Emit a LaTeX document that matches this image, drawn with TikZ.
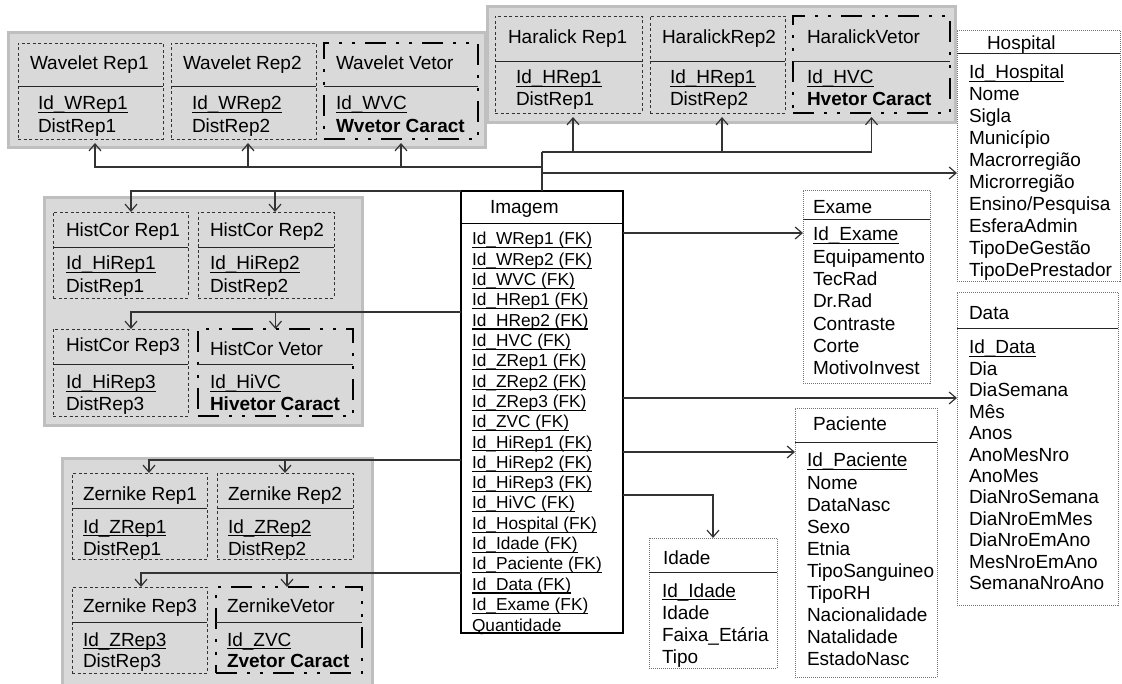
\documentclass[tikz,border=0pt]{standalone}
\usepackage{fontspec}
\setmainfont{Liberation Sans}
\usetikzlibrary{arrows.meta}
\definecolor{cinza}{HTML}{D9D9D9}
\definecolor{cinzaborda}{HTML}{BFBFBF}
\newcommand{\sublinha}[1]{\setbox0=\hbox{#1}\rlap{\rule[-3.4pt]{\wd0}{1.1pt}}\box0}

\begin{document}
\begin{tikzpicture}[x=1pt, y=-1pt,
	every node/.style={font=\fontsize{19}{22}\selectfont, inner sep=0pt, outer sep=0pt},
	>={Straight Barb[length=7pt, width=12pt]},
	caixa/.style={anchor=north west},
	tam/.style 2 args={minimum width=#1, minimum height=#2},
	grupo/.style={caixa, fill=cinza, draw=cinzaborda, line width=3pt},
	rep/.style={caixa, draw=black!80, line width=0.9pt, dash pattern=on 3pt off 2.5pt},
	vetor/.style={caixa, draw=black, line width=2.8pt, dash pattern=on 21pt off 10pt on 3pt off 10pt on 3pt off 10pt},
	tabela/.style={caixa, draw=black!55, line width=0.9pt, dash pattern=on 1pt off 1pt},
	div/.style={draw=black!85, line width=0.9pt},
	txt/.style={anchor=base west},
	pequena/.style={font=\fontsize{17.3}{20}\selectfont},
	lig/.style={draw=black!80, line width=1.2pt}]
	\useasboundingbox (0,0) rectangle (1122,684);

	% grupos de caracteristicas
	\node[grupo, tam={477pt}{115pt}] (gW) at (8,33) {};
	\node[grupo, tam={468pt}{116pt}] (gH) at (487,7) {};
	\node[grupo, tam={318pt}{228pt}] (gHi) at (44,198) {};
	\node[grupo, tam={310pt}{240pt}] (gZ) at (62,458) {};

	% Wavelet
	\node[rep, tam={145pt}{96pt}] (wr1) at (18,43) {};
	\node[rep, tam={145pt}{96pt}] (wr2) at (171,43) {};
	\node[vetor, tam={154pt}{96pt}] (wvc) at (324,43) {};
	\draw[div] (wr1.west |- 0,86) -- (wr1.east |- 0,86);
	\draw[div] (wr2.west |- 0,86) -- (wr2.east |- 0,86);
	\draw[div] (wvc.west |- 0,86) -- (wvc.east |- 0,86);
	\node[txt] at (30,70) {Wavelet Rep1};
	\node[txt] at (38,110) {\sublinha{Id\_WRep1}};
	\node[txt] at (38,133) {DistRep1};
	\node[txt] at (183,70) {Wavelet Rep2};
	\node[txt] at (192,110) {\sublinha{Id\_WRep2}};
	\node[txt] at (192,133) {DistRep2};
	\node[txt] at (336,70) {Wavelet Vetor};
	\node[txt] at (336,110) {\sublinha{Id\_WVC}};
	\node[txt] at (336,133) {\textbf{Wvetor Caract}};

	% Haralick
	\node[rep, tam={147pt}{97pt}] (hr1) at (495,16) {};
	\node[rep, tam={135pt}{97pt}] (hr2) at (650,16) {};
	\node[vetor, tam={157pt}{97pt}] (hvc) at (793,16) {};
	\draw[div] (hr1.west |- 0,61) -- (hr1.east |- 0,61);
	\draw[div] (hr2.west |- 0,61) -- (hr2.east |- 0,61);
	\draw[div] (hvc.west |- 0,61) -- (hvc.east |- 0,61);
	\node[txt] at (508,44) {Haralick Rep1};
	\node[txt] at (516,84) {\sublinha{Id\_HRep1}};
	\node[txt] at (516,106) {DistRep1};
	\node[txt] at (662,44) {HaralickRep2};
	\node[txt] at (670,84) {\sublinha{Id\_HRep1}};
	\node[txt] at (670,106) {DistRep2};
	\node[txt] at (807,44) {HaralickVetor};
	\node[txt] at (807,84) {\sublinha{Id\_HVC}};
	\node[txt] at (807,106) {\textbf{Hvetor Caract}};

	% HistCor
	\node[rep, tam={135pt}{86pt}] (hi1) at (53,212) {};
	\node[rep, tam={136pt}{86pt}] (hi2) at (198,212) {};
	\node[rep, tam={135pt}{87pt}] (hi3) at (53,329) {};
	\node[vetor, tam={155pt}{87pt}] (hivc) at (198,329) {};
	\draw[div] (hi1.west |- 0,247) -- (hi1.east |- 0,247);
	\draw[div] (hi2.west |- 0,247) -- (hi2.east |- 0,247);
	\draw[div] (hi3.west |- 0,364) -- (hi3.east |- 0,364);
	\draw[div] (hivc.west |- 0,364) -- (hivc.east |- 0,364);
	\node[txt] at (66,237) {HistCor Rep1};
	\node[txt] at (66,270) {\sublinha{Id\_HiRep1}};
	\node[txt] at (66,293) {DistRep1};
	\node[txt] at (210,237) {HistCor Rep2};
	\node[txt] at (210,270) {\sublinha{Id\_HiRep2}};
	\node[txt] at (210,293) {DistRep2};
	\node[txt] at (66,352) {HistCor Rep3};
	\node[txt] at (66,389) {\sublinha{Id\_HiRep3}};
	\node[txt] at (66,410) {DistRep3};
	\node[txt] at (210,356) {HistCor Vetor};
	\node[txt] at (210,389) {\sublinha{Id\_HiVC}};
	\node[txt] at (210,410) {\textbf{Hivetor Caract}};

	% Zernike
	\node[rep, tam={135pt}{86pt}] (zr1) at (72,473) {};
	\node[rep, tam={136pt}{86pt}] (zr2) at (217,473) {};
	\node[rep, tam={135pt}{86pt}] (zr3) at (72,587) {};
	\node[vetor, tam={146pt}{86pt}] (zvc) at (216,587) {};
	\draw[div] (zr1.west |- 0,508) -- (zr1.east |- 0,508);
	\draw[div] (zr2.west |- 0,508) -- (zr2.east |- 0,508);
	\draw[div] (zr3.west |- 0,622) -- (zr3.east |- 0,622);
	\draw[div] (zvc.west |- 0,622) -- (zvc.east |- 0,622);
	\node[txt] at (83,500) {Zernike Rep1};
	\node[txt] at (83,533) {\sublinha{Id\_ZRep1}};
	\node[txt] at (83,555) {DistRep1};
	\node[txt] at (228,500) {Zernike Rep2};
	\node[txt] at (228,533) {\sublinha{Id\_ZRep2}};
	\node[txt] at (228,555) {DistRep2};
	\node[txt] at (83,612) {Zernike Rep3};
	\node[txt] at (83,646) {\sublinha{Id\_ZRep3}};
	\node[txt] at (83,667) {DistRep3};
	\node[txt] at (227,612) {ZernikeVetor};
	\node[txt] at (227,646) {\sublinha{Id\_ZVC}};
	\node[txt] at (227,667) {\textbf{Zvetor Caract}};

	% tabela fato
	\node[caixa, draw=black, line width=1.2pt, tam={162pt}{442pt}] (img) at (461,191) {};
	\draw[div, draw=black] (img.west |- 0,223) -- (img.east |- 0,223);
	\node[txt] at (490,214) {Imagem};
	\foreach \campo [count=\i from 0] in {WRep1,WRep2,WVC,HRep1,HRep2,HVC,ZRep1,ZRep2,ZRep3,ZVC,HiRep1,HiRep2,HiRep3,HiVC,Hospital,Idade,Paciente,Data,Exame}
		\node[txt, pequena] at (472,{245+20.3*\i}) {\sublinha{Id\_\campo\ (FK)}};
	\node[txt, pequena] at (472,631) {Quantidade};

	% dimensoes
	\node[tabela, tam={163pt}{251pt}] (hosp) at (957,30) {};
	\draw[div] (hosp.west |- 0,53) -- (hosp.east |- 0,53);
	\node[txt] at (987,50) {Hospital};
	\node[txt] at (969,79) {\sublinha{Id\_Hospital}};
	\foreach \campo [count=\i] in {Nome,Sigla,Município,Macrorregião,Microrregião,Ensino/Pesquisa,EsferaAdmin,TipoDeGestão,TipoDePrestador}
		\node[txt] at (969,{79+22*\i}) {\campo};

	\node[tabela, tam={127pt}{193pt}] (exame) at (803,190) {};
	\draw[div] (exame.west |- 0,219) -- (exame.east |- 0,219);
	\node[txt] at (813,214) {Exame};
	\node[txt] at (813,241) {\sublinha{Id\_Exame}};
	\foreach \campo [count=\i] in {Equipamento,TecRad,Dr.Rad,Contraste,Corte,MotivoInvest}
		\node[txt] at (813,{241+22.3*\i}) {\campo};

	\node[tabela, tam={161pt}{313pt}] (dados) at (957,292) {};
	\draw[div] (dados.west |- 0,328) -- (dados.east |- 0,328);
	\node[txt] at (969,320) {Data};
	\node[txt] at (969,354) {\sublinha{Id\_Data}};
	\foreach \campo [count=\i] in {Dia,DiaSemana,Mês,Anos,AnoMesNro,AnoMes,DiaNroSemana,DiaNroEmMes,DiaNroEmAno,MesNroEmAno,SemanaNroAno}
		\node[txt] at (969,{354+21.4*\i}) {\campo};

	\node[tabela, tam={142pt}{269pt}] (pac) at (795,408) {};
	\draw[div] (pac.west |- 0,442) -- (pac.east |- 0,442);
	\node[txt] at (813,431) {Paciente};
	\node[txt] at (807,467) {\sublinha{Id\_Paciente}};
	\foreach \campo [count=\i] in {Nome,DataNasc,Sexo,Etnia,TipoSanguineo,TipoRH,Nacionalidade,Natalidade,EstadoNasc}
		\node[txt] at (807,{467+22*\i}) {\campo};

	\node[tabela, tam={128pt}{130pt}] (idade) at (649,538) {};
	\draw[div] (idade.west |- 0,572) -- (idade.east |- 0,572);
	\node[txt] at (663,564) {Idade};
	\node[txt] at (662,597) {\sublinha{Id\_Idade}};
	\foreach \campo [count=\i] in {Idade,Faixa\_Etária,Tipo}
		\node[txt] at (662,{597+22.3*\i}) {\campo};

	% ligacoes
	\coordinate (nH) at (542,152);
	\coordinate (nW) at (542,167);
	\coordinate (nHosp) at (542,173);
	\draw[lig] (img.north) -- (nH);
	\draw[lig, ->, shorten >=4pt] (nH) -| ([xshift=4.5pt]hr1.south);
	\draw[lig, ->, shorten >=4pt] (nH) -| ([xshift=4.5pt]hr2.south);
	\draw[lig, ->, shorten >=4pt] (nH) -| (hvc.south);
	\draw[lig, ->, shorten >=4pt] (nW) -| ([xshift=4.5pt]wr1.south);
	\draw[lig, ->, shorten >=4pt] (nW) -| ([xshift=4.5pt]wr2.south);
	\draw[lig, ->, shorten >=4pt] (nW) -| (wvc.south);
	\draw[lig, ->] (nHosp) -- (nHosp -| hosp.west);
	\draw[lig, ->] (img.north west) -| ([xshift=10.5pt]hi1.north);
	\draw[lig, ->] (img.north west) -| ([xshift=9pt]hi2.north);
	\draw[lig, ->] (img.west |- 0,312) -| ([xshift=10.5pt]hi3.north);
	\draw[lig, ->] (img.west |- 0,312) -| (hivc.north);
	\draw[lig, ->] (img.west |- 0,460) -| ([xshift=9.5pt]zr1.north);
	\draw[lig, ->] (img.west |- 0,460) -| (zr2.north);
	\draw[lig, ->] (img.west |- 0,573) -| ([xshift=1.5pt]zr3.north);
	\draw[lig, ->] (img.west |- 0,573) -| ([xshift=-2pt]zvc.north);
	\draw[lig, ->] (img.east |- 0,233) -- (exame.west |- 0,233);
	\draw[lig, ->] (img.east |- 0,398) -- (dados.west |- 0,398);
	\draw[lig, ->] (img.east |- 0,452) -- (pac.west |- 0,452);
	\draw[lig, ->] (img.east |- 0,495) -| (idade.north);
\end{tikzpicture}
\end{document}
